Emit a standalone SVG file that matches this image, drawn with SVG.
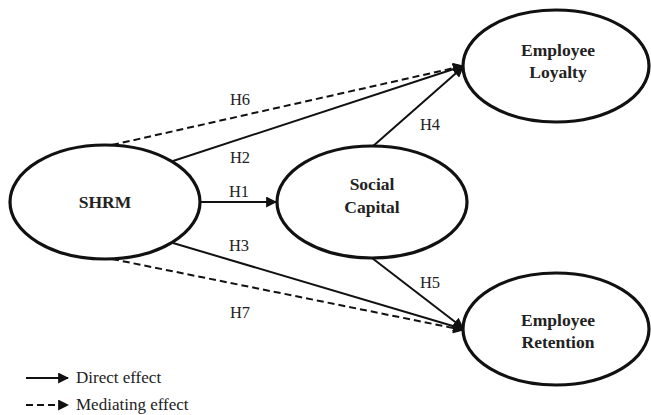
<svg xmlns="http://www.w3.org/2000/svg" width="651" height="415" viewBox="0 0 651 415">
<style>
.node{fill:#fff;stroke:#111;stroke-width:3.2}
text{font-family:'Liberation Serif','Times New Roman',serif}
.nt{font-weight:bold;font-size:17.5px;fill:#222;text-anchor:middle}
.lab{font-size:16.5px;fill:#222;text-anchor:middle}
.c{stroke:#111;stroke-width:2;fill:none}
.d{stroke-dasharray:7,4}
.leg{font-size:17px;fill:#222}
</style>
<defs>
<marker id="ah" viewBox="0 0 10 10" refX="9" refY="5" markerWidth="5.5" markerHeight="5.5" orient="auto" markerUnits="strokeWidth">
<path d="M0,0 L10,5 L0,10 z" fill="#111"/>
</marker>
</defs>
<g id="connectors">
<line class="c" x1="200" y1="202" x2="276" y2="202" marker-end="url(#ah)"/>
<line class="c" x1="173" y1="161" x2="463" y2="66" marker-end="url(#ah)"/>
<line class="c d" x1="112" y1="145" x2="463" y2="66" marker-end="url(#ah)"/>
<line class="c" x1="173" y1="243" x2="463" y2="329" marker-end="url(#ah)"/>
<line class="c d" x1="112" y1="259" x2="463" y2="330" marker-end="url(#ah)"/>
<line class="c" x1="372" y1="147" x2="463" y2="67" marker-end="url(#ah)"/>
<line class="c" x1="372" y1="258" x2="463" y2="328" marker-end="url(#ah)"/>
<text class="lab" x="239" y="197">H1</text>
<text class="lab" x="240" y="163">H2</text>
<text class="lab" x="240" y="105">H6</text>
<text class="lab" x="239" y="251">H3</text>
<text class="lab" x="240" y="318">H7</text>
<text class="lab" x="430" y="130">H4</text>
<text class="lab" x="430" y="288">H5</text>
</g>
<g id="shrm">
<ellipse class="node" cx="105" cy="202" rx="95" ry="57"/>
<text class="nt" x="105" y="208">SHRM</text>
</g>
<g id="social-capital">
<ellipse class="node" cx="372" cy="202" rx="95" ry="56"/>
<text class="nt" x="372" y="190">Social</text>
<text class="nt" x="372" y="213">Capital</text>
</g>
<g id="employee-loyalty">
<ellipse class="node" cx="556" cy="66" rx="93" ry="56"/>
<text class="nt" x="558" y="56">Employee</text>
<text class="nt" x="558" y="78">Loyalty</text>
</g>
<g id="employee-retention">
<ellipse class="node" cx="556" cy="329" rx="93" ry="56"/>
<text class="nt" x="558" y="326">Employee</text>
<text class="nt" x="558" y="348">Retention</text>
</g>
<g id="legend">
<line class="c" x1="26" y1="378" x2="68" y2="378" marker-end="url(#ah)"/>
<text class="leg" x="76" y="383">Direct effect</text>
<line class="c d" x1="26" y1="405" x2="68" y2="405" marker-end="url(#ah)"/>
<text class="leg" x="76" y="410">Mediating effect</text>
</g>
</svg>
